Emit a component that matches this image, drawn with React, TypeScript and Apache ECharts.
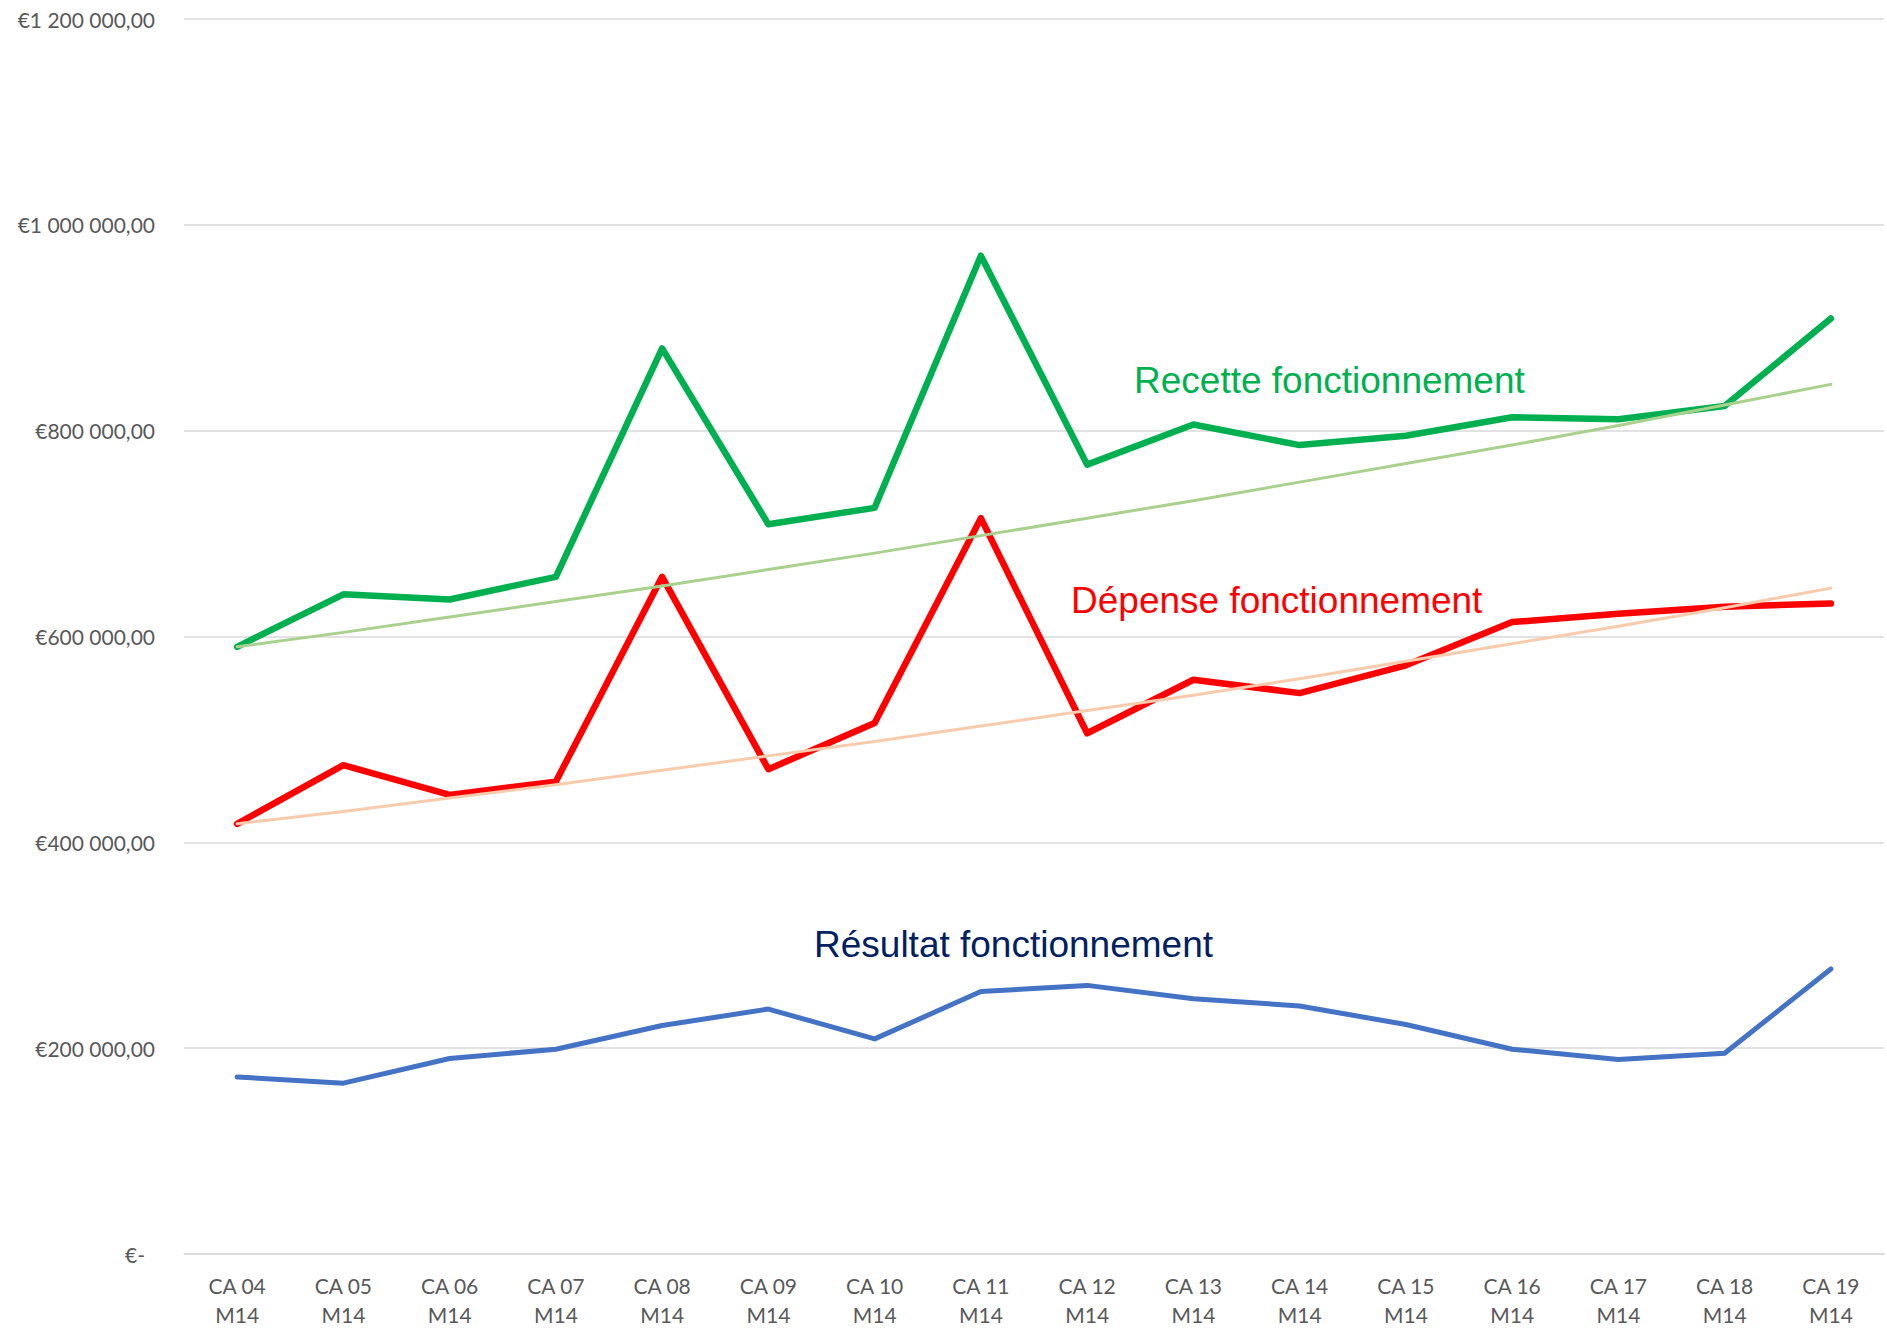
import React, { useEffect, useRef } from "react";
import * as echarts from "echarts";

const categories = [
  "CA 04\nM14", "CA 05\nM14", "CA 06\nM14", "CA 07\nM14", "CA 08\nM14", "CA 09\nM14",
  "CA 10\nM14", "CA 11\nM14", "CA 12\nM14", "CA 13\nM14", "CA 14\nM14", "CA 15\nM14",
  "CA 16\nM14", "CA 17\nM14", "CA 18\nM14", "CA 19\nM14",
];

const recette = [590000, 641000, 636000, 658000, 880000, 709000, 725000, 970000, 767000, 806000, 786000, 795000, 813000, 811000, 824000, 909000];
const depense = [418000, 475000, 446000, 459000, 658000, 471000, 516000, 715000, 506000, 558000, 545000, 572000, 614000, 622000, 629000, 632000];
const resultat = [172000, 166000, 190000, 199000, 222000, 238000, 209000, 255000, 261000, 248000, 241000, 223000, 199000, 189000, 195000, 277000];

const recetteTrend = [590000, 604000, 619000, 634000, 649000, 665000, 681000, 698000, 715000, 732000, 750000, 768000, 786000, 805000, 825000, 845000];
const depenseTrend = [418000, 430000, 443000, 456000, 470000, 484000, 498000, 513000, 528000, 543000, 559000, 576000, 593000, 610000, 628000, 647000];

const yMin = 0;
const yMax = 1200000;
const yStep = 200000;

const labelFont = "Lato, 'Open Sans', sans-serif";
const annoFont = "'Liberation Sans', Arial, sans-serif";

function fmtEuro(v: number): string {
  if (v === 0) return "{z|€-}";
  const s = Math.round(v).toString().replace(/\B(?=(\d{3})+(?!\d))/g, " ");
  return "€" + s + ",00";
}

export default function App() {
  const ref = useRef<HTMLDivElement>(null);
  useEffect(() => {
    if (!ref.current) return;
    const chart = echarts.init(ref.current, null, { renderer: "svg" });
    const lineBase = (name: string, data: number[], color: string, width: number, z: number) => ({
      name,
      type: "line",
      data,
      symbol: "none",
      z,
      lineStyle: { color, width, cap: "round", join: "round" },
      itemStyle: { color },
    });
    chart.setOption({
      animation: false,
      backgroundColor: "#ffffff",
      grid: { left: 184, right: 3, top: 19, bottom: 74, containLabel: false },
      xAxis: {
        type: "category",
        data: categories,
        boundaryGap: true,
        axisLine: { show: true, lineStyle: { color: "#D9D9D9", width: 1.5 } },
        axisTick: { show: false },
        axisLabel: {
          color: "#595959",
          fontFamily: labelFont,
          fontSize: 21,
          lineHeight: 29,
          margin: 17,
          interval: 0,
        },
      },
      yAxis: {
        type: "value",
        min: yMin,
        max: yMax,
        interval: yStep,
        axisLine: { show: false },
        axisTick: { show: false },
        splitLine: { lineStyle: { color: "#D9D9D9", width: 1.5 } },
        axisLabel: {
          color: "#595959",
          fontFamily: labelFont,
          fontSize: 21,
          margin: 29,
          formatter: (v: number) => fmtEuro(v),
          rich: {
            z: { color: "#595959", fontFamily: labelFont, fontSize: 21, padding: [0, 10, 0, 0] },
          },
        },
      },
      series: [
        lineBase("Recette fonctionnement", recette, "#00B050", 6.5, 2),
        lineBase("Dépense fonctionnement", depense, "#FF0000", 6.5, 2),
        lineBase("Résultat fonctionnement", resultat, "#4472C4", 5, 2),
        lineBase("Tendance recette", recetteTrend, "#A9D18E", 3, 3),
        lineBase("Tendance dépense", depenseTrend, "#F8CBAD", 3, 3),
      ],
      graphic: [
        {
          type: "text",
          left: 1134,
          top: 362,
          style: { text: "Recette fonctionnement", fill: "#00B050", font: `37px ${annoFont}` },
        },
        {
          type: "text",
          left: 1071,
          top: 582,
          style: { text: "Dépense fonctionnement", fill: "#FF0000", font: `37px ${annoFont}` },
        },
        {
          type: "text",
          left: 814,
          top: 926,
          style: { text: "Résultat fonctionnement", fill: "#002060", font: `37px ${annoFont}` },
        },
      ],
    });
    return () => chart.dispose();
  }, []);
  return (
    <div
      ref={ref}
      style={{ position: "fixed", left: 0, top: 0, width: 1887, height: 1329, background: "#fff" }}
    />
  );
}
